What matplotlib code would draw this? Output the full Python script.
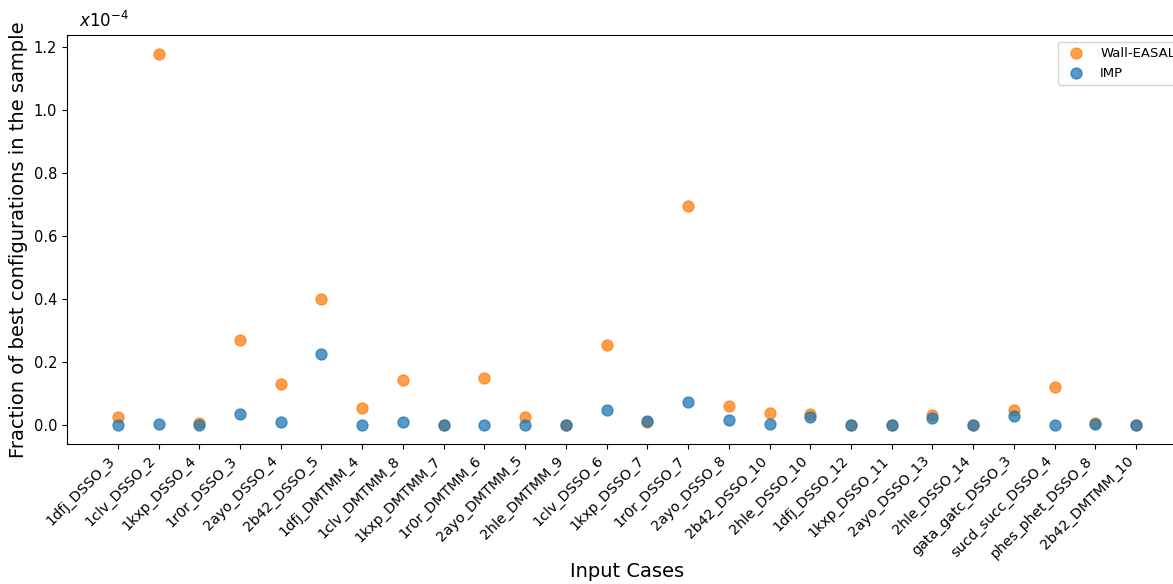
import matplotlib.pyplot as plt

cases = [
    "1dfj_DSSO_3", "1clv_DSSO_2", "1kxp_DSSO_4", "1r0r_DSSO_3", "2ayo_DSSO_4",
    "2b42_DSSO_5", "1dfj_DMTMM_4", "1clv_DMTMM_8", "1kxp_DMTMM_7", "1r0r_DMTMM_6",
    "2ayo_DMTMM_5", "2hle_DMTMM_9", "1clv_DSSO_6", "1kxp_DSSO_7", "1r0r_DSSO_7",
    "2ayo_DSSO_8", "2b42_DSSO_10", "2hle_DSSO_10", "1dfj_DSSO_12", "1kxp_DSSO_11",
    "2ayo_DSSO_13", "2hle_DSSO_14", "gata_gatc_DSSO_3", "sucd_succ_DSSO_4",
    "phes_phet_DSSO_8", "2b42_DMTMM_10",
]

# fractions, in units of 1e-4
wall_easal = [0.025, 1.18, 0.006, 0.27, 0.13, 0.40, 0.055, 0.145, 0.0, 0.15,
              0.027, 0.0, 0.255, 0.009, 0.695, 0.06, 0.04, 0.037, 0.002, 0.001,
              0.033, 0.0, 0.047, 0.12, 0.008, 0.0]
imp = [0.002, 0.003, 0.001, 0.037, 0.009, 0.227, 0.0, 0.009, 0.0, 0.0,
       0.002, 0.0, 0.05, 0.012, 0.075, 0.016, 0.004, 0.025, 0.002, 0.002,
       0.022, 0.001, 0.03, 0.001, 0.003, 0.002]

fig = plt.figure(figsize=(11.73, 5.84), dpi=100)
# the original figure was cropped on the right, so the axes run off the edge
ax = fig.add_axes([0.057, 0.240, 0.955, 0.700])

x = range(len(cases))
ax.scatter(x, wall_easal, s=62, color="tab:orange", alpha=0.75, label="Wall-EASAL")
ax.scatter(x, imp, s=62, color="tab:blue", alpha=0.75, label="IMP")

ax.set_xticks(list(x))
ax.set_xticklabels(cases, rotation=45, ha="right", fontsize=10.3)
ax.tick_params(axis="y", labelsize=10.5)
ax.set_xlabel("Input Cases", fontsize=14, labelpad=1)
ax.set_ylabel("Fraction of best configurations in the sample", fontsize=14)
ax.text(0.011, 1.02, r"$x10^{-4}$", transform=ax.transAxes, fontsize=12)

ax.legend(loc="upper right", fontsize=9.5)

fig.savefig("out.png", dpi=100)
